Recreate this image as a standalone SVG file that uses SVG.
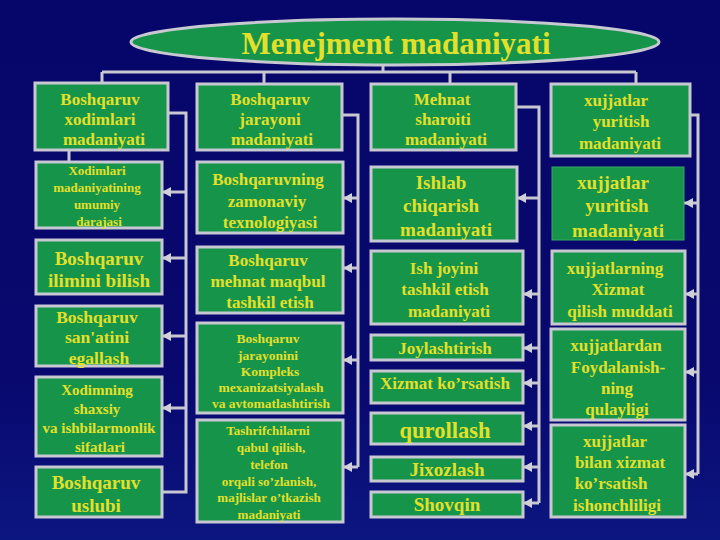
<svg xmlns="http://www.w3.org/2000/svg" width="720" height="540" viewBox="0 0 720 540">
<defs>
<linearGradient id="bg" x1="0" y1="0" x2="0" y2="1">
<stop offset="0" stop-color="#06066a"/>
<stop offset="0.7" stop-color="#08086e"/>
<stop offset="1" stop-color="#0c1680"/>
</linearGradient>
<marker id="arr" markerUnits="userSpaceOnUse" markerWidth="10" markerHeight="10" refX="9" refY="5" orient="auto">
<path d="M0,0 L9,5 L0,10 z" fill="#d0d0d8"/>
</marker>
<style>
.box{fill:#16944a;stroke:#c8c8d2;stroke-width:3}
.thin{fill:#16944a;stroke:#3aa860;stroke-width:1}
.ln{fill:none;stroke:#c8c8d2;stroke-width:3}
.ar{fill:none;stroke:#c8c8d2;stroke-width:3;marker-end:url(#arr)}
text{font-family:"Liberation Serif","Times New Roman",serif;font-weight:bold;fill:#e2e02a;text-anchor:middle}
</style>
</defs>
<rect x="0" y="0" width="720" height="540" fill="url(#bg)"/>

<g id="connectors">
<line class="ln" x1="383" y1="65" x2="383" y2="72"/>
<line class="ln" x1="102" y1="72" x2="636" y2="72"/>
<line class="ln" x1="102" y1="72" x2="102" y2="83"/>
<line class="ln" x1="264" y1="72" x2="264" y2="84"/>
<line class="ln" x1="450" y1="72" x2="450" y2="84"/>
<line class="ln" x1="636" y1="72" x2="636" y2="84"/>
<line class="ln" x1="69" y1="150" x2="69" y2="162"/>
<polyline class="ln" points="168,113 186,113 186,492 162,492"/>
<line class="ar" x1="186" y1="192" x2="162" y2="192"/>
<line class="ar" x1="186" y1="258" x2="162" y2="258"/>
<line class="ar" x1="186" y1="336" x2="162" y2="336"/>
<line class="ar" x1="186" y1="408" x2="162" y2="408"/>
<polyline class="ln" points="342,115 358,115 358,467"/>
<line class="ar" x1="358" y1="198" x2="343" y2="198"/>
<line class="ar" x1="358" y1="268" x2="343" y2="268"/>
<line class="ar" x1="358" y1="360" x2="343" y2="360"/>
<line class="ar" x1="358" y1="467" x2="343" y2="467"/>
<polyline class="ln" points="516,107 539,107 539,503"/>
<line class="ar" x1="539" y1="198" x2="517" y2="198"/>
<line class="ar" x1="539" y1="294" x2="523" y2="294"/>
<line class="ar" x1="539" y1="348" x2="523" y2="348"/>
<line class="ar" x1="539" y1="383" x2="523" y2="383"/>
<line class="ar" x1="539" y1="426" x2="523" y2="426"/>
<line class="ar" x1="539" y1="467" x2="523" y2="467"/>
<line class="ar" x1="539" y1="503" x2="523" y2="503"/>
<polyline class="ln" points="690,115 698,115 698,474"/>
<line class="ar" x1="698" y1="203" x2="684" y2="203"/>
<line class="ar" x1="698" y1="294" x2="685" y2="294"/>
<line class="ar" x1="698" y1="372" x2="685" y2="372"/>
<line class="ar" x1="698" y1="474" x2="685" y2="474"/>
</g>

<g id="root">
<ellipse cx="395" cy="42" rx="264" ry="23" fill="#16944a" stroke="#c8c8d2" stroke-width="3"/>
<text x="396" y="54" font-size="31">Menejment madaniyati</text>
</g>

<g id="top1">
<rect class="box" x="35" y="83" width="133" height="67"/>
<text font-size="17"><tspan x="100" y="105">Boshqaruv</tspan><tspan x="100" y="125">xodimlari</tspan><tspan x="104" y="145">madaniyati</tspan></text>
</g>
<g id="top2">
<rect class="box" x="197" y="84" width="145" height="66"/>
<text font-size="17"><tspan x="270" y="105">Boshqaruv</tspan><tspan x="270" y="125">jarayoni</tspan><tspan x="272" y="145">madaniyati</tspan></text>
</g>
<g id="top3">
<rect class="box" x="371" y="84" width="145" height="66"/>
<text font-size="17"><tspan x="442" y="105">Mehnat</tspan><tspan x="443" y="125">sharoiti</tspan><tspan x="446" y="145">madaniyati</tspan></text>
</g>
<g id="top4">
<rect class="box" x="551" y="84" width="139" height="72"/>
<text font-size="17"><tspan x="616" y="106">xujjatlar</tspan><tspan x="621" y="127">yuritish</tspan><tspan x="620" y="149">madaniyati</tspan></text>
</g>

<g id="c1a">
<rect class="box" x="36" y="162" width="126" height="66"/>
<text font-size="13"><tspan x="97" y="175">Xodimlari</tspan><tspan x="97" y="192">madaniyatining</tspan><tspan x="97" y="209">umumiy</tspan><tspan x="99" y="226">darajasi</tspan></text>
</g>
<g id="c1b">
<rect class="box" x="36" y="240" width="126" height="54"/>
<text font-size="19"><tspan x="99" y="265">Boshqaruv</tspan><tspan x="99" y="287">ilimini bilish</tspan></text>
</g>
<g id="c1c">
<rect class="box" x="36" y="306" width="126" height="60"/>
<text font-size="17.5"><tspan x="97" y="323">Boshqaruv</tspan><tspan x="97" y="343">san'atini</tspan><tspan x="99" y="364">egallash</tspan></text>
</g>
<g id="c1d">
<rect class="box" x="36" y="377" width="126" height="79"/>
<text font-size="15"><tspan x="97" y="395">Xodimning</tspan><tspan x="97" y="414">shaxsiy</tspan><tspan x="99" y="433">va ishbilarmonlik</tspan><tspan x="100" y="452">sifatlari</tspan></text>
</g>
<g id="c1e">
<rect class="box" x="36" y="467" width="126" height="50"/>
<text font-size="19"><tspan x="96" y="489">Boshqaruv</tspan><tspan x="96" y="512">uslubi</tspan></text>
</g>

<g id="c2a">
<rect class="box" x="197" y="162" width="146" height="71"/>
<text font-size="17"><tspan x="268" y="185">Boshqaruvning</tspan><tspan x="267" y="207">zamonaviy</tspan><tspan x="270" y="228">texnologiyasi</tspan></text>
</g>
<g id="c2b">
<rect class="box" x="197" y="247" width="146" height="66"/>
<text font-size="17"><tspan x="268" y="266">Boshqaruv</tspan><tspan x="268" y="287">mehnat maqbul</tspan><tspan x="270" y="308">tashkil etish</tspan></text>
</g>
<g id="c2c">
<rect class="box" x="197" y="323" width="146" height="90"/>
<text font-size="13.5"><tspan x="268" y="343">Boshqaruv</tspan><tspan x="268" y="360">jarayonini</tspan><tspan x="270" y="376">Kompleks</tspan><tspan x="271" y="392">mexanizatsiyalash</tspan><tspan x="271" y="408">va avtomatlashtirish</tspan></text>
</g>
<g id="c2d">
<rect class="box" x="197" y="420" width="146" height="102"/>
<text font-size="13"><tspan x="268" y="435">Tashrifchilarni</tspan><tspan x="271" y="452">qabul qilish,</tspan><tspan x="269" y="469">telefon</tspan><tspan x="269" y="486">orqali so’zlanish,</tspan><tspan x="269" y="502">majlislar o’tkazish</tspan><tspan x="269" y="519">madaniyati</tspan></text>
</g>

<g id="c3a">
<rect class="box" x="371" y="167" width="146" height="74"/>
<text font-size="19"><tspan x="441" y="189">Ishlab</tspan><tspan x="441" y="212">chiqarish</tspan><tspan x="446" y="236">madaniyati</tspan></text>
</g>
<g id="c3b">
<rect class="box" x="371" y="251" width="152" height="73"/>
<text font-size="17"><tspan x="444" y="274">Ish joyini</tspan><tspan x="445" y="295">tashkil etish</tspan><tspan x="449" y="317">madaniyati</tspan></text>
</g>
<g id="c3c">
<rect class="box" x="371" y="335" width="152" height="25"/>
<text font-size="17" x="445" y="354">Joylashtirish</text>
</g>
<g id="c3d">
<rect class="box" x="371" y="371" width="152" height="32"/>
<text font-size="17" x="445" y="389">Xizmat ko’rsatish</text>
</g>
<g id="c3e">
<rect class="box" x="371" y="413" width="152" height="31"/>
<text font-size="22.5" x="445" y="438">qurollash</text>
</g>
<g id="c3f">
<rect class="box" x="371" y="457" width="152" height="24"/>
<text font-size="19" x="447" y="476">Jixozlash</text>
</g>
<g id="c3g">
<rect class="box" x="371" y="492" width="152" height="25"/>
<text font-size="19" x="447" y="511">Shovqin</text>
</g>

<g id="c4a">
<rect class="thin" x="552" y="167" width="132" height="73"/>
<text font-size="19"><tspan x="613" y="189">xujjatlar</tspan><tspan x="617" y="212">yuritish</tspan><tspan x="618" y="237">madaniyati</tspan></text>
</g>
<g id="c4b">
<rect class="box" x="552" y="251" width="133" height="73"/>
<text font-size="17"><tspan x="615" y="274">xujjatlarning</tspan><tspan x="618" y="295">Xizmat</tspan><tspan x="620" y="317">qilish muddati</tspan></text>
</g>
<g id="c4c">
<rect class="box" x="551" y="329" width="134" height="91"/>
<text font-size="17"><tspan x="616" y="351">xujjatlardan</tspan><tspan x="618" y="373">Foydalanish-</tspan><tspan x="617" y="394">ning</tspan><tspan x="617" y="415">qulayligi</tspan></text>
</g>
<g id="c4d">
<rect class="box" x="551" y="425" width="134" height="92"/>
<text font-size="17"><tspan x="615" y="447">xujjatlar</tspan><tspan x="620" y="468">bilan xizmat</tspan><tspan x="611" y="489">ko’rsatish</tspan><tspan x="617" y="511">ishonchliligi</tspan></text>
</g>
</svg>
